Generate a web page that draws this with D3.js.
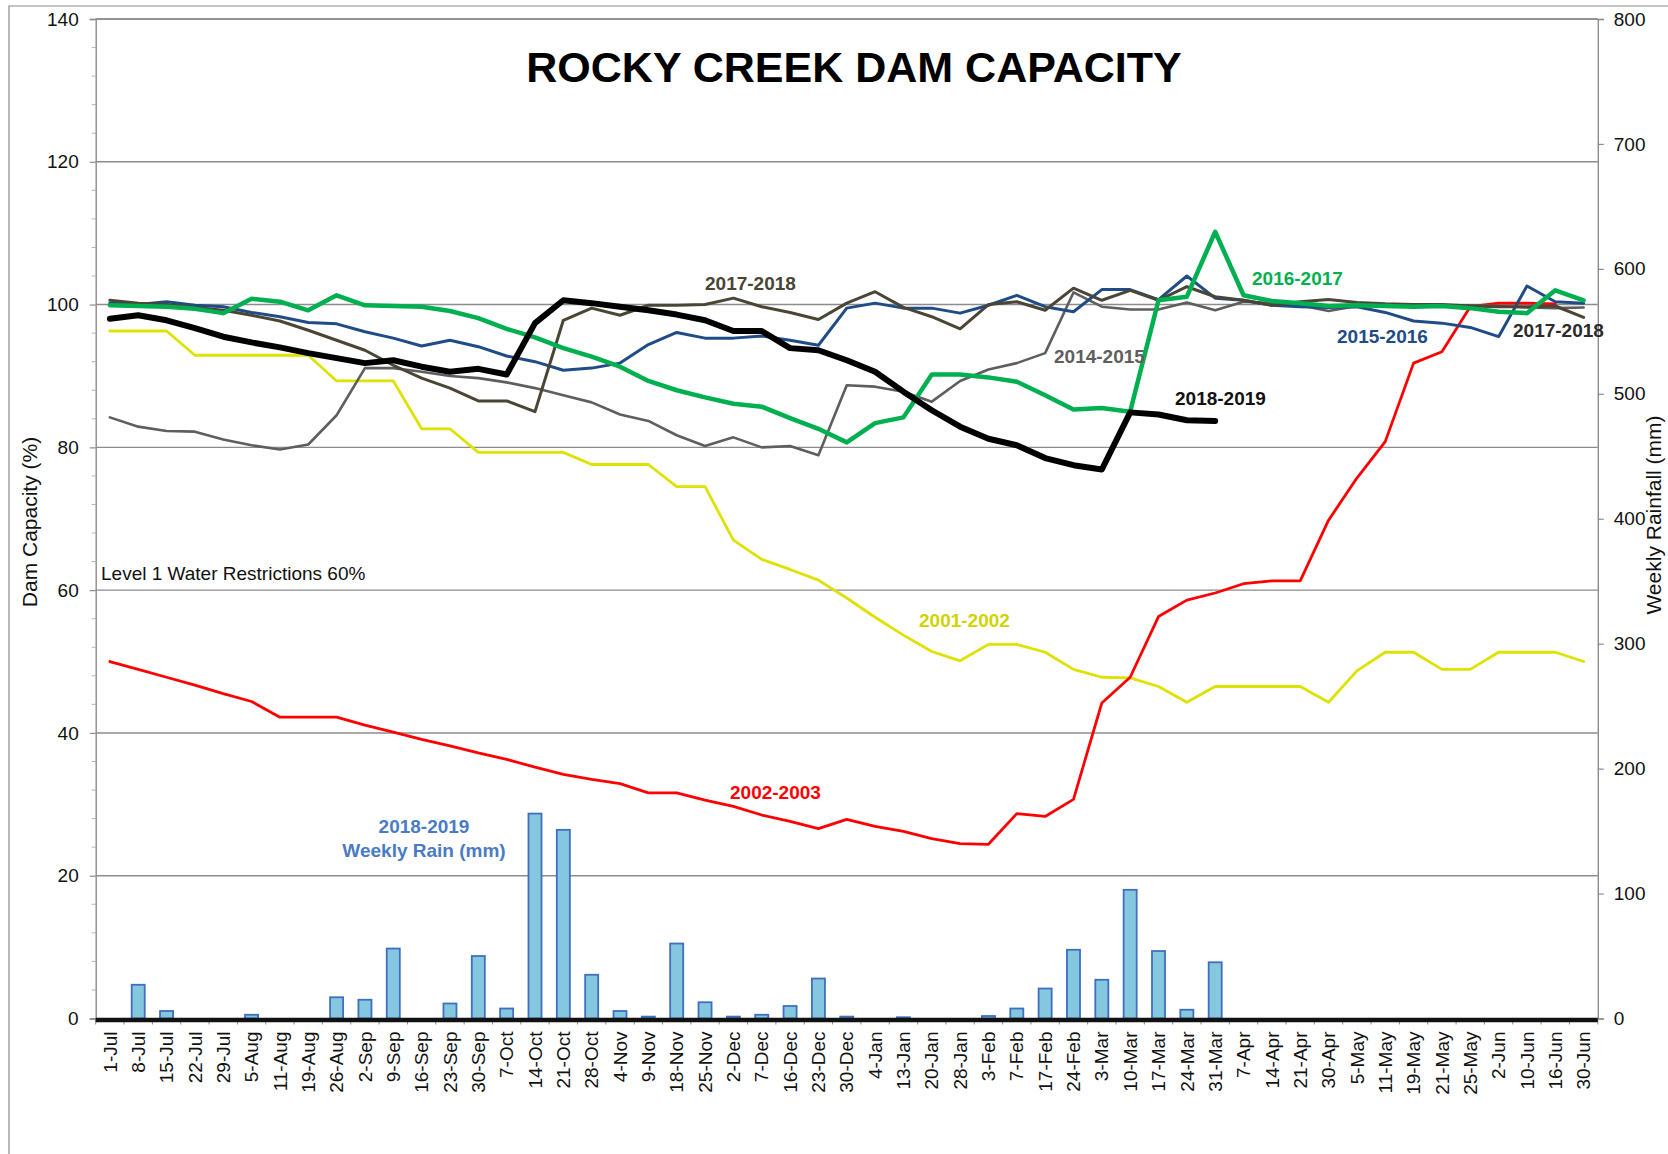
<!DOCTYPE html>
<html>
<head>
<meta charset="utf-8">
<script src="https://cdn.jsdelivr.net/npm/d3@7"></script>
<style>
  html, body { margin: 0; padding: 0; background: #fff; }
  svg { display: block; font-family: "Liberation Sans", Arial, sans-serif; }
</style>
</head>
<body>
<svg id="chart" width="1668" height="1154"></svg>
<script>
// Week-ending dates across the water year (July to June)
const weeks = ["1-Jul","8-Jul","15-Jul","22-Jul","29-Jul","5-Aug","11-Aug","19-Aug","26-Aug","2-Sep",
  "9-Sep","16-Sep","23-Sep","30-Sep","7-Oct","14-Oct","21-Oct","28-Oct","4-Nov","9-Nov",
  "18-Nov","25-Nov","2-Dec","7-Dec","16-Dec","23-Dec","30-Dec","4-Jan","13-Jan","20-Jan",
  "28-Jan","3-Feb","7-Feb","17-Feb","24-Feb","3-Mar","10-Mar","17-Mar","24-Mar","31-Mar",
  "7-Apr","14-Apr","21-Apr","30-Apr","5-May","11-May","19-May","21-May","25-May","2-Jun",
  "10-Jun","16-Jun","30-Jun"];

// Weekly rainfall 2018-2019 (mm), secondary axis
const rain2018 = [0, 27, 6, 0, 0, 3, 0, 0, 17, 15, 56, 0, 12, 50, 8, 164, 151, 35, 6, 1.5,
  60, 13, 1.5, 3, 10, 32, 1.5, 0, 1, 0, 0, 2, 8, 24, 55, 31, 103, 54, 7, 45];

// Dam capacity (%) by season
const cap2001 = [96.3, 96.3, 96.3, 92.9, 92.9, 92.9, 92.9, 92.9, 89.3, 89.3,
  89.3, 82.6, 82.6, 79.3, 79.3, 79.3, 79.3, 77.6, 77.6, 77.6,
  74.5, 74.5, 67.0, 64.3, 62.9, 61.4, 58.9, 56.2, 53.7, 51.4,
  50.1, 52.4, 52.4, 51.3, 48.9, 47.8, 47.7, 46.5, 44.3, 46.5,
  46.5, 46.5, 46.5, 44.3, 48.7, 51.3, 51.3, 48.9, 48.9, 51.3,
  51.3, 51.3, 50.0];

const cap2002 = [50.0, 48.9, 47.8, 46.7, 45.5, 44.4, 42.2, 42.2, 42.2, 41.1,
  40.1, 39.1, 38.2, 37.2, 36.3, 35.2, 34.2, 33.5, 32.9, 31.6,
  31.6, 30.6, 29.7, 28.5, 27.6, 26.6, 27.9, 26.9, 26.2, 25.2,
  24.5, 24.4, 28.7, 28.3, 30.7, 44.2, 47.8, 56.3, 58.6, 59.6,
  60.9, 61.3, 61.3, 69.8, 75.7, 80.8, 91.8, 93.4, 99.7, 100.2,
  100.2, 100.1, null];

const cap2014 = [84.2, 82.9, 82.3, 82.2, 81.1, 80.3, 79.7, 80.4, 84.5, 91.1,
  91.1, 90.6, 90.0, 89.7, 89.1, 88.3, 87.3, 86.3, 84.6, 83.7,
  81.7, 80.2, 81.4, 80.0, 80.2, 78.9, 88.7, 88.5, 87.8, 86.4,
  89.3, 90.9, 91.8, 93.2, 101.7, 99.7, 99.3, 99.3, 100.3, 99.2,
  100.4, 100.2, 99.9, 99.1, 99.8, 100.0, 99.9, 99.9, 99.9, 99.8,
  99.6, 99.5, 99.6];

const cap2015 = [100.2, 100.0, 100.4, 99.9, 99.7, 98.9, 98.3, 97.5, 97.3, 96.2,
  95.3, 94.2, 95.0, 94.1, 92.8, 92.0, 90.8, 91.1, 91.8, 94.4,
  96.1, 95.3, 95.3, 95.6, 95.0, 94.3, 99.5, 100.2, 99.5, 99.5,
  98.8, 99.9, 101.3, 99.7, 99.0, 102.1, 102.1, 100.7, 104.0, 100.9,
  100.6, 99.9, 99.7, 99.6, 99.7, 98.9, 97.7, 97.4, 96.8, 95.5,
  102.6, 100.4, 100.2];

const cap2016 = [99.9, 99.8, 99.7, 99.4, 98.8, 100.8, 100.4, 99.2, 101.3, 99.9,
  99.8, 99.7, 99.1, 98.1, 96.6, 95.4, 93.9, 92.7, 91.3, 89.3,
  88.0, 87.0, 86.1, 85.7, 84.1, 82.6, 80.7, 83.4, 84.2, 90.2,
  90.2, 89.8, 89.2, 87.3, 85.3, 85.5, 85.0, 100.6, 101.1, 110.2,
  101.3, 100.5, 100.2, 99.8, 99.9, 99.8, 99.7, 99.8, 99.5, 99.0,
  98.8, 102.0, 100.6];

const cap2017 = [100.6, 100.2, 100.0, 99.6, 99.2, 98.5, 97.7, 96.4, 95.0, 93.6,
  91.5, 89.7, 88.3, 86.5, 86.5, 85.0, 97.8, 99.5, 98.5, 99.9,
  99.9, 100.0, 100.9, 99.7, 98.9, 97.9, 100.2, 101.8, 99.6, 98.3,
  96.6, 100.0, 100.4, 99.2, 102.3, 100.6, 102.0, 100.6, 102.5, 101.1,
  100.6, 99.9, 100.4, 100.7, 100.3, 100.1, 100.0, 100.0, 99.8, 99.7,
  99.7, 99.8, 98.2];

const cap2018 = [98.0, 98.5, 97.8, 96.7, 95.5, 94.7, 94.0, 93.2, 92.5, 91.8,
  92.2, 91.3, 90.6, 91.0, 90.2, 97.4, 100.6, 100.2, 99.7, 99.2,
  98.6, 97.8, 96.3, 96.3, 93.9, 93.6, 92.2, 90.6, 87.8, 85.2,
  82.9, 81.2, 80.3, 78.5, 77.5, 76.9, 84.9, 84.6, 83.8, 83.7];

const leftTicks = [0, 20, 40, 60, 80, 100, 120, 140];
const rightTicks = [0, 100, 200, 300, 400, 500, 600, 700, 800];

// ---- layout ----
const W = 1668, H = 1154;
const plot = { left: 95.7, right: 1597.8, top: 19, bottom: 1018.5 };
const FONT = '"Liberation Sans", Arial, sans-serif';

const svg = d3.select("#chart");
svg.append("rect").attr("width", W).attr("height", H).attr("fill", "#fff");

// outer chart frame (runs off the right and bottom edges)
svg.append("path")
  .attr("d", `M9,${H + 5} L9,6 L${W + 5},6`)
  .attr("fill", "none").attr("stroke", "#8a8a8a").attr("stroke-width", 1.2);

const x = d3.scaleBand().domain(weeks).range([plot.left, plot.right]).padding(0);
const yL = d3.scaleLinear().domain([0, 140]).range([plot.bottom, plot.top]);
const yR = d3.scaleLinear().domain([0, 800]).range([plot.bottom, plot.top]);
const cx = d => x(d) + x.bandwidth() / 2;

// horizontal gridlines
svg.append("g")
  .selectAll("line").data(leftTicks.filter(v => v > 0))
  .join("line")
  .attr("x1", plot.left).attr("x2", plot.right)
  .attr("y1", d => yL(d)).attr("y2", d => yL(d))
  .attr("stroke", "#8c8c8c").attr("stroke-width", 1.4);

// minor ticks on the left axis
const minor = d3.range(0, 141, 4).filter(v => v % 20 !== 0);
svg.append("g")
  .selectAll("line").data(minor)
  .join("line")
  .attr("x1", plot.left - 4).attr("x2", plot.left)
  .attr("y1", d => yL(d)).attr("y2", d => yL(d))
  .attr("stroke", "#b5b5b5").attr("stroke-width", 1);

// left axis
const gL = svg.append("g").attr("transform", `translate(${plot.left},0)`)
  .call(d3.axisLeft(yL).tickValues(leftTicks).tickSize(6).tickPadding(11));
gL.select(".domain").attr("stroke", "#8c8c8c").attr("stroke-width", 1.4);
gL.selectAll(".tick line").attr("stroke", "#8c8c8c").attr("stroke-width", 1.2);
gL.selectAll(".tick text").attr("font-family", FONT).attr("font-size", 19).attr("fill", "#111");

// right axis
const gR = svg.append("g").attr("transform", `translate(${plot.right},0)`)
  .call(d3.axisRight(yR).tickValues(rightTicks).tickSize(6).tickPadding(10));
gR.select(".domain").attr("stroke", "#8c8c8c").attr("stroke-width", 1.4);
gR.selectAll(".tick line").attr("stroke", "#8c8c8c").attr("stroke-width", 1.2);
gR.selectAll(".tick text").attr("font-family", FONT).attr("font-size", 19).attr("fill", "#111");

// rainfall bars
const barW = x.bandwidth() * 0.46;
svg.append("g")
  .selectAll("rect").data(rain2018.map((v, i) => ({ wk: weeks[i], v })))
  .join("rect")
  .attr("x", d => cx(d.wk) - barW / 2)
  .attr("width", barW)
  .attr("y", d => yR(d.v))
  .attr("height", d => yR(0) - yR(d.v))
  .attr("fill", "#86c7e0")
  .attr("stroke", "#3f6fc0")
  .attr("stroke-width", 1.8);

// bottom axis: thick base line, boundary ticks and rotated date labels
const gB = svg.append("g").attr("transform", `translate(0,${plot.bottom})`)
  .call(d3.axisBottom(x).tickSize(0).tickPadding(0));
gB.select(".domain").remove();
gB.selectAll(".tick text")
  .attr("font-family", FONT).attr("font-size", 19).attr("fill", "#111")
  .attr("transform", "rotate(-90)")
  .attr("text-anchor", "end")
  .attr("x", -13).attr("y", 0).attr("dy", "0.35em");
svg.append("g")
  .selectAll("line").data(d3.range(weeks.length + 1))
  .join("line")
  .attr("x1", i => plot.left + i * x.step()).attr("x2", i => plot.left + i * x.step())
  .attr("y1", plot.bottom).attr("y2", plot.bottom + 6)
  .attr("stroke", "#8c8c8c").attr("stroke-width", 1);
svg.append("line")
  .attr("x1", plot.left).attr("x2", plot.right)
  .attr("y1", plot.bottom + 1.5).attr("y2", plot.bottom + 1.5)
  .attr("stroke", "#111").attr("stroke-width", 4.5);

// top frame of the plot area
svg.append("line")
  .attr("x1", plot.left).attr("x2", plot.right)
  .attr("y1", plot.top).attr("y2", plot.top)
  .attr("stroke", "#8c8c8c").attr("stroke-width", 1.4);

// capacity lines
const series = [
  { name: "2001-2002", values: cap2001, color: "#dde200", width: 2.8 },
  { name: "2002-2003", values: cap2002, color: "#ff0000", width: 2.8 },
  { name: "2014-2015", values: cap2014, color: "#5e5e5e", width: 2.6 },
  { name: "2015-2016", values: cap2015, color: "#1f4c86", width: 3 },
  { name: "2017-2018", values: cap2017, color: "#4a4535", width: 3 },
  { name: "2016-2017", values: cap2016, color: "#00b050", width: 4.5 },
  { name: "2018-2019", values: cap2018, color: "#000000", width: 6 }
];
const line = d3.line()
  .defined(d => d.v != null)
  .x(d => cx(d.wk))
  .y(d => yL(d.v));
svg.append("g")
  .selectAll("path").data(series)
  .join("path")
  .attr("d", s => line(s.values.map((v, i) => ({ wk: weeks[i], v }))))
  .attr("fill", "none")
  .attr("stroke", s => s.color)
  .attr("stroke-width", s => s.width)
  .attr("stroke-linejoin", "round")
  .attr("stroke-linecap", "round");

// series labels
const labels = [
  { text: "2017-2018", x: 705, y: 290, color: "#4a4535" },
  { text: "2014-2015", x: 1054, y: 363, color: "#5e5e5e" },
  { text: "2016-2017", x: 1252, y: 285, color: "#00b050" },
  { text: "2015-2016", x: 1337, y: 343, color: "#1f4c86" },
  { text: "2017-2018", x: 1513, y: 337, color: "#2b2b2b" },
  { text: "2018-2019", x: 1175, y: 405, color: "#111111" },
  { text: "2001-2002", x: 919, y: 627, color: "#cfd400" },
  { text: "2002-2003", x: 730, y: 799, color: "#ff0000" }
];
svg.append("g")
  .selectAll("text").data(labels)
  .join("text")
  .attr("x", d => d.x).attr("y", d => d.y)
  .attr("font-family", FONT).attr("font-size", 19).attr("font-weight", "bold")
  .attr("fill", d => d.color)
  .text(d => d.text);

// rainfall label
const rainLbl = svg.append("text")
  .attr("x", 424).attr("y", 833)
  .attr("text-anchor", "middle")
  .attr("font-family", FONT).attr("font-size", 19).attr("font-weight", "bold")
  .attr("fill", "#4a7bc4");
rainLbl.append("tspan").attr("x", 424).text("2018-2019");
rainLbl.append("tspan").attr("x", 424).attr("dy", 24).text("Weekly Rain (mm)");

// restriction level note
svg.append("text")
  .attr("x", 101).attr("y", 580)
  .attr("font-family", FONT).attr("font-size", 19).attr("fill", "#111")
  .text("Level 1 Water Restrictions 60%");

// title
svg.append("text")
  .attr("x", 854).attr("y", 82)
  .attr("text-anchor", "middle")
  .attr("font-family", FONT).attr("font-size", 43).attr("font-weight", "bold")
  .attr("fill", "#000")
  .text("ROCKY CREEK DAM CAPACITY");

// axis titles
svg.append("text")
  .attr("transform", "translate(37,522) rotate(-90)")
  .attr("text-anchor", "middle")
  .attr("font-family", FONT).attr("font-size", 21).attr("fill", "#111")
  .text("Dam Capacity (%)");
svg.append("text")
  .attr("transform", "translate(1661,515) rotate(-90)")
  .attr("text-anchor", "middle")
  .attr("font-family", FONT).attr("font-size", 21).attr("fill", "#111")
  .text("Weekly Rainfall (mm)");
</script>
</body>
</html>
